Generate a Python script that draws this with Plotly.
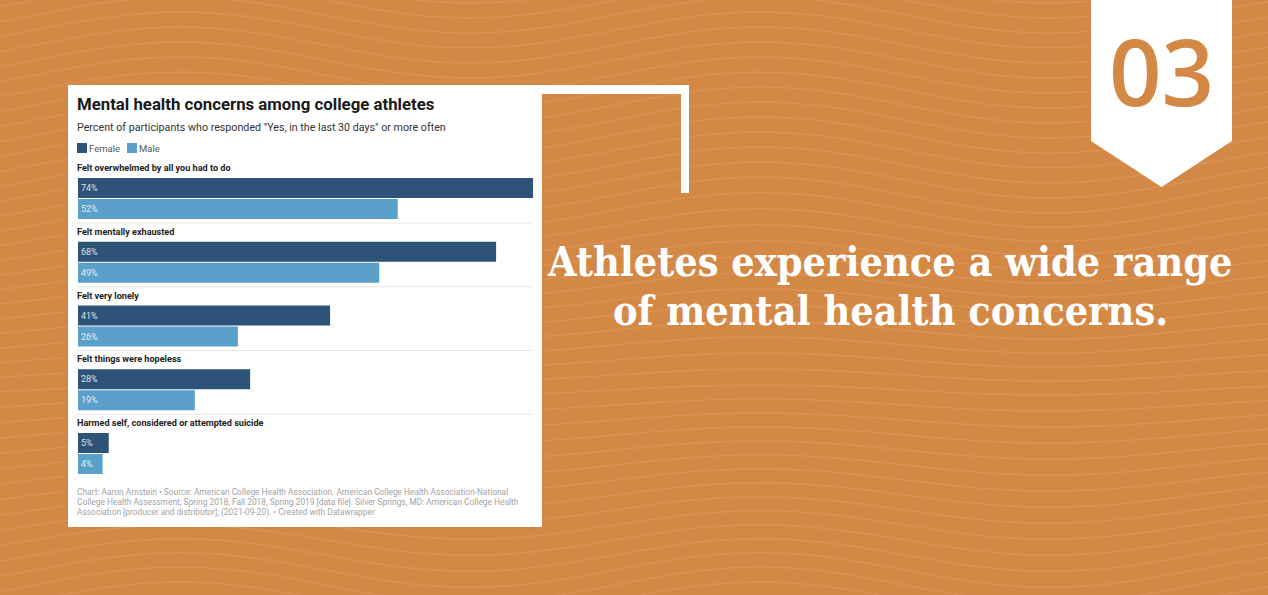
import numpy as np
import plotly.graph_objects as go

# ---------------- data ----------------
categories = [
    "Felt overwhelmed by all you had to do",
    "Felt mentally exhausted",
    "Felt very lonely",
    "Felt things were hopeless",
    "Harmed self, considered or attempted suicide",
]
female = [74, 68, 41, 28, 5]
male = [52, 49, 26, 19, 4]
series_names = ["Female", "Male"]

title_text = "Mental health concerns among college athletes"
subtitle_text = 'Percent of participants who responded "Yes, in the last 30 days" or more often'
footer_lines = [
    "Chart: Aaron Arnstein • Source: American College Health Association. American College Health Association-National",
    "College Health Assessment, Spring 2018, Fall 2018, Spring 2019 [data file]. Silver Springs, MD: American College Health",
    "Association [producer and distributor]; (2021-09-20). • Created with Datawrapper",
]
headline_lines = ["Athletes experience a wide range", "of mental health concerns."]
badge_text = "03"

# ---------------- style ----------------
W, H = 1268, 595
BG = "#D48845"
WAVE = "#DB9254"
FEMALE_C = "#2E5378"
MALE_C = "#5AA0CB"
FONT = "Roboto"


def px(x):
    return x / W


def py(y):
    return 1 - y / H


P = 63.75  # pixels per category slot
label_px0 = 168  # pixel y of first category label
y_top_px, y_bot_px = 150, 480
pos = list(range(len(categories)))

fig = go.Figure()
for vals, name, col, off in [(female, series_names[0], FEMALE_C, 10 / P),
                             (male, series_names[1], MALE_C, 31 / P)]:
    fig.add_trace(go.Bar(
        orientation="h", x=vals, y=pos, name=name,
        offset=off, width=20 / P,
        marker=dict(color=col, line=dict(width=0)),
        text=[f"{v}%" for v in vals], textposition="inside",
        insidetextanchor="start",
        textfont=dict(family=FONT, size=9, color="rgba(255,255,255,0.85)"),
        hoverinfo="skip", showlegend=False,
    ))

shapes = []
# background waves (decoration)
xs = np.linspace(-20, W + 20, 80)
for y0 in np.arange(-30, H + 40, 15):
    amp = 5 + 13 * min(1.0, abs(y0 - 390) / 190)
    ys = y0 - amp * np.cos(2 * np.pi * (xs - 180) / 580)
    path = "M " + " L ".join(f"{px(a):.5f},{py(b):.5f}" for a, b in zip(xs, ys))
    shapes.append(dict(type="path", xref="paper", yref="paper", path=path,
                       line=dict(color=WAVE, width=1.3), layer="below"))

# card
shapes.append(dict(type="rect", xref="paper", yref="paper", x0=px(68), x1=px(542),
                   y0=py(85), y1=py(527), fillcolor="white", line=dict(width=0), layer="below"))
# bracket
shapes.append(dict(type="rect", xref="paper", yref="paper", x0=px(541), x1=px(689),
                   y0=py(85), y1=py(94), fillcolor="white", line=dict(width=0), layer="below"))
shapes.append(dict(type="rect", xref="paper", yref="paper", x0=px(681), x1=px(689),
                   y0=py(85), y1=py(193), fillcolor="white", line=dict(width=0), layer="below"))
# badge
badge_pts = [(1091, 0), (1232, 0), (1232, 141), (1161.5, 187), (1091, 141)]
shapes.append(dict(type="path", xref="paper", yref="paper",
                   path="M " + " L ".join(f"{px(a):.5f},{py(b):.5f}" for a, b in badge_pts) + " Z",
                   fillcolor="white", line=dict(width=0), layer="below"))
# legend squares
for x0, col in [(77, FEMALE_C), (127, MALE_C)]:
    shapes.append(dict(type="rect", xref="paper", yref="paper", x0=px(x0), x1=px(x0 + 10),
                       y0=py(143), y1=py(153), fillcolor=col, line=dict(width=0)))
# separators between groups
for i in pos[:-1]:
    shapes.append(dict(type="line", xref="paper", yref="y", x0=px(77), x1=px(533),
                       y0=i + 55 / P, y1=i + 55 / P, line=dict(color="#e6e6e6", width=1)))

ann = []


def text(x, y, s, size, color, family=FONT, xanchor="left", weight="normal", yref="paper"):
    ann.append(dict(x=x, y=y, xref="paper", yref=yref, text=s,
                    showarrow=False, xanchor=xanchor, yanchor="middle",
                    font=dict(family=family, size=size, color=color, weight=weight)))


text(px(75), py(104), title_text, 16.8, "#1a1a1a", weight="bold")
text(px(75), py(127), subtitle_text, 10.7, "#333333")
text(px(87), py(148), series_names[0], 9.5, "#555555")
text(px(137), py(148), series_names[1], 9.5, "#555555")
for i, c in zip(pos, categories):
    text(px(75), i, c, 9.1, "#222222", weight="bold", yref="y")
for k, line in enumerate(footer_lines):
    text(px(75), py(492 + 10 * k), line, 8.4, "#a3a3a3")

HEAD_FONT = "DejaVu Serif Condensed, DejaVu Serif"
text(px(890), py(262), headline_lines[0], 41, "white", family=HEAD_FONT, xanchor="center", weight="bold")
text(px(890), py(311), headline_lines[1], 41, "white", family=HEAD_FONT, xanchor="center", weight="bold")
text(px(1161), py(70), badge_text, 92, BG, family="Open Sans", xanchor="center", weight=600)

fig.update_layout(
    width=W, height=H, margin=dict(l=0, r=0, t=0, b=0),
    paper_bgcolor=BG, plot_bgcolor="rgba(0,0,0,0)",
    barmode="overlay", showlegend=False,
    xaxis=dict(domain=[px(78), px(533)], range=[0, max(female)], visible=False, fixedrange=True),
    yaxis=dict(domain=[py(y_bot_px), py(y_top_px)],
               range=[(y_bot_px - label_px0) / P, (y_top_px - label_px0) / P],
               visible=False, fixedrange=True),
    shapes=shapes, annotations=ann,
)

fig.write_html("out.html")
